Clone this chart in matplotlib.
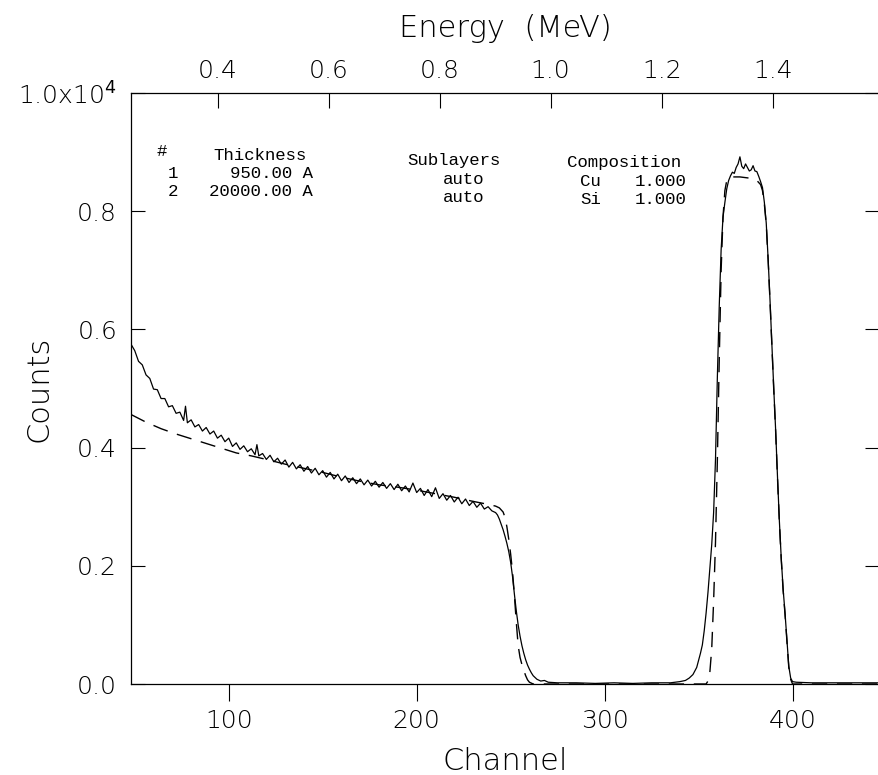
import matplotlib
matplotlib.use("Agg")
import matplotlib.pyplot as plt
import numpy as np

# Measured spectrum (channel, counts)
meas_ch = [48, 50, 52, 54, 56, 58, 60, 62, 64, 66, 68, 70, 72, 74, 76, 77, 78, 80, 82, 84,
           86, 88, 90, 92, 94, 96, 98, 100, 102, 104, 106, 108, 110, 112, 114, 115, 116, 118, 120, 122,
           124, 126, 128, 130, 132, 134, 136, 138, 140, 142, 144, 146, 148, 150, 152, 154, 156, 158, 160, 162,
           164, 166, 168, 170, 172, 174, 176, 178, 180, 182, 184, 186, 188, 190, 192, 194, 196, 198, 200, 202,
           204, 206, 208, 210, 212, 214, 216, 218, 220, 222, 224, 226, 228, 230, 232, 234, 236, 238, 240, 242,
           243, 244, 245, 246, 247, 248, 249, 250, 251, 252, 253, 254, 255, 256, 257, 258, 259, 260, 261, 262,
           263, 264, 266, 268, 270, 275, 285, 295, 305, 315, 325, 335, 340, 343, 345, 347, 349, 350, 351, 352,
           353, 354, 355, 356, 357, 358, 359, 360, 361, 362, 363, 364, 365, 366, 367, 368, 369, 370, 371, 372,
           373, 374, 375, 376, 377, 378, 379, 380, 381, 382, 383, 384, 385, 386, 387, 388, 389, 390, 391, 392,
           393, 394, 395, 396, 397, 398, 399, 400, 402, 410, 420, 430, 446]
meas_counts = [5750, 5640, 5460, 5400, 5230, 5170, 4990, 4980, 4830, 4830, 4690, 4710, 4580, 4600, 4460, 4700, 4420, 4470, 4350, 4390,
               4280, 4340, 4230, 4280, 4160, 4210, 4100, 4160, 4020, 4080, 3970, 4030, 3930, 3980, 3880, 4050, 3860, 3900, 3800, 3870,
               3760, 3820, 3720, 3790, 3670, 3750, 3640, 3710, 3600, 3680, 3570, 3650, 3540, 3610, 3500, 3580, 3470, 3550, 3440, 3520,
               3410, 3490, 3390, 3470, 3370, 3450, 3350, 3430, 3330, 3410, 3310, 3390, 3290, 3380, 3270, 3350, 3250, 3400, 3240, 3310,
               3190, 3290, 3170, 3320, 3140, 3220, 3110, 3190, 3080, 3160, 3050, 3130, 3020, 3090, 2990, 3060, 2960, 3000, 2930, 2900,
               2860, 2790, 2700, 2610, 2500, 2380, 2240, 2060, 1820, 1520, 1240, 1000, 810, 650, 520, 410, 320, 250, 190, 140,
               110, 80, 50, 60, 30, 20, 20, 10, 20, 10, 20, 20, 40, 60, 100, 160, 280, 400, 520, 660,
               900, 1200, 1550, 1950, 2360, 2900, 3800, 5200, 6400, 7350, 7900, 8150, 8380, 8520, 8600, 8660, 8640, 8740, 8800, 8920,
               8760, 8720, 8800, 8740, 8680, 8700, 8770, 8680, 8670, 8590, 8500, 8400, 8150, 7800, 7200, 6500, 5750, 5000, 4300, 3500,
               2750, 2120, 1600, 1200, 750, 300, 100, 40, 30, 20, 20, 20, 20]

# Simulated spectrum (dashed)
sim_ch = [48, 56, 64, 72, 80, 88, 96, 104, 112, 120, 130, 140, 150, 160, 170, 180, 190, 200, 210, 220,
          230, 238, 242, 244, 246, 247, 248, 249, 250, 251, 252, 253, 254, 255, 256, 257, 258, 259, 260, 262,
          354, 355, 356, 357, 358, 359, 360, 361, 362, 363, 364, 365, 367, 372, 377, 381, 383, 384, 385, 386,
          387, 388, 389, 390, 391, 392, 393, 394, 395, 396, 397, 398, 399, 400, 446]
sim_counts = [4560, 4430, 4320, 4230, 4150, 4070, 3990, 3910, 3860, 3800, 3720, 3650, 3580, 3500, 3430, 3370, 3330, 3280, 3220, 3160,
              3090, 3040, 3010, 2980, 2910, 2820, 2660, 2450, 2200, 1900, 1500, 1050, 650, 450, 330, 230, 140, 70, 30, 0,
              0, 50, 200, 600, 1400, 2400, 3800, 5500, 7000, 7900, 8350, 8520, 8580, 8580, 8560, 8520, 8450, 8350, 8120, 7780,
              7180, 6480, 5730, 4980, 4280, 3480, 2730, 2100, 1580, 1180, 730, 280, 80, 0, 0]

# Layer table printed on the plot
layer_ids = ["1", "2"]
thicknesses = ["950.00 A", "20000.00 A"]
sublayers = ["auto", "auto"]
elements = ["Cu", "Si"]
fractions = ["1.000", "1.000"]

# Energy calibration: E = e0 + de * channel (MeV)
e0 = 0.0814
de = 0.003386
energy_ticks = [0.4, 0.6, 0.8, 1.0, 1.2, 1.4]
channel_ticks = [100, 200, 300, 400]
count_ticks = [0.0, 0.2, 0.4, 0.6, 0.8, 1.0]
count_labels = ["0.0", "0.2", "0.4", "0.6", "0.8", "1.0x10$^4$"]

W, H = 879, 775
fig = plt.figure(figsize=(W / 100, H / 100), dpi=100)
ax = fig.add_axes([131 / W, 1 - 684 / H, 1 - 131 / W, (684 - 93) / H])

scale = 1e4
ax.plot(meas_ch, np.array(meas_counts) / scale, color="black", lw=0.9)
ax.plot(sim_ch, np.array(sim_counts) / scale, color="black", lw=1.0, dashes=(11, 7))

ax.set_xlim(48, 446)
ax.set_ylim(0, 1.0)

tick_font = dict(family="DejaVu Sans", weight="light", size=18)
label_font = dict(family="DejaVu Sans", weight="light", size=22)

ax.set_xticks(channel_ticks)
ax.set_xticklabels([str(c) for c in channel_ticks], fontdict=tick_font)
ax.set_yticks(count_ticks)
ax.set_yticklabels(count_labels, fontdict=tick_font)
ax.tick_params(axis="x", direction="out", length=12, width=0.8, pad=6)
ax.tick_params(axis="y", direction="in", length=10, width=0.8, pad=10, right=True)
ax.spines["right"].set_visible(False)
for s in ["left", "bottom", "top"]:
    ax.spines[s].set_linewidth(0.9)

ax.set_xlabel("Channel", fontdict=label_font, labelpad=10)
ax.set_ylabel("Counts", fontdict=label_font)
ax.yaxis.set_label_coords(-0.103, 0.5)

# Top energy axis
def ch2e(c):
    return e0 + de * np.asarray(c)

def e2ch(e):
    return (np.asarray(e) - e0) / de

top = ax.secondary_xaxis("top", functions=(ch2e, e2ch))
top.set_xticks(energy_ticks)
top.set_xticklabels(["%.1f" % e for e in energy_ticks], fontdict=tick_font)
top.tick_params(direction="in", length=11, width=0.8, pad=7)
top.spines["top"].set_visible(False)
top.set_xlabel("Energy  (MeV)", fontdict=label_font, labelpad=16)

# Layer table, monospace like the original printout
mono = dict(family="Liberation Mono", size=12.5, color="black", va="center")

def put(x, y, s, ha="left"):
    fig.text(x / W, 1 - y / H, s, ha=ha, **mono)

put(157, 152, "#")
put(213, 155, "Thickness")
put(407, 160, "Sublayers")
put(567, 163, "Composition")
for i in range(2):
    y = 174 + 18 * i
    put(168, y, layer_ids[i])
    put(313, y, thicknesses[i], ha="right")
    put(443, y + 6, sublayers[i])
    put(580, y + 8, elements[i])
    put(635, y + 8, fractions[i])

fig.savefig("out.png", dpi=100)
